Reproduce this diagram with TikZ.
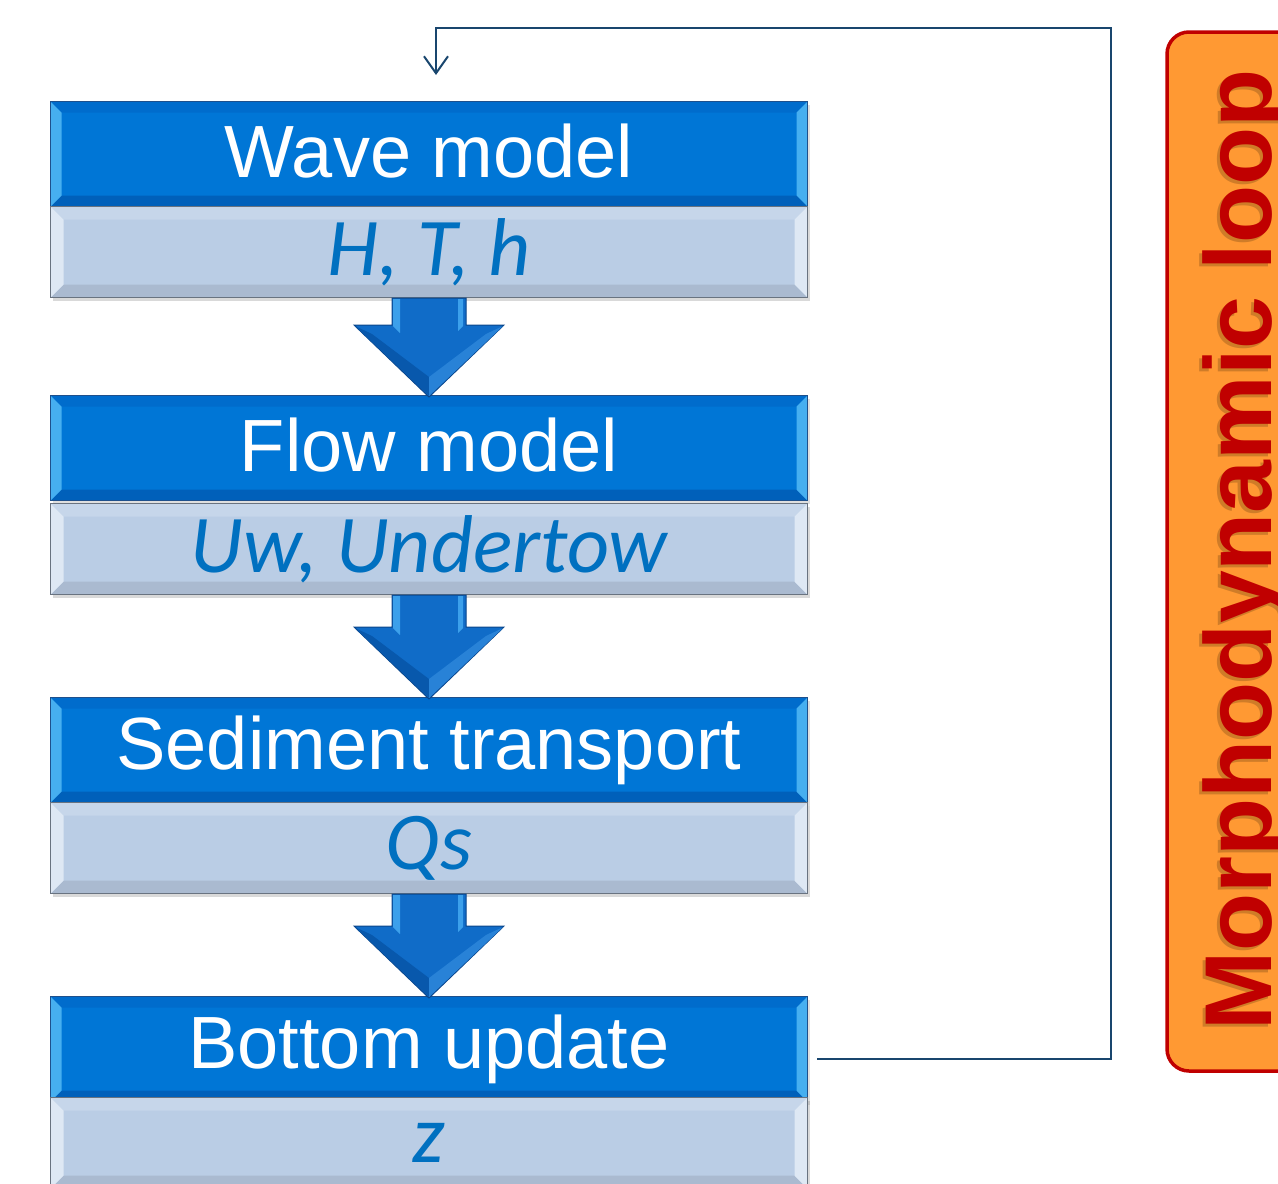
\documentclass[tikz,border=0pt]{standalone}
\usepackage{fontspec}
\setmainfont{Liberation Sans}
\newfontfamily\subfont{Carlito}
\usetikzlibrary{arrows.meta,shadows,calc}

\definecolor{hdrblue}{RGB}{0,118,214}
\definecolor{hdrtop}{RGB}{0,108,204}
\definecolor{hdrbot}{RGB}{0,96,186}
\definecolor{hdrlight}{RGB}{70,175,240}
\definecolor{hdredge}{RGB}{30,80,140}
\definecolor{subfill}{RGB}{186,205,229}
\definecolor{subtop}{RGB}{198,214,234}
\definecolor{sublight}{RGB}{222,232,244}
\definecolor{subbot}{RGB}{170,186,208}
\definecolor{subedge}{RGB}{105,115,128}
\definecolor{subtext}{RGB}{0,112,192}
\definecolor{arrblue}{RGB}{16,108,200}
\definecolor{arrdark}{RGB}{8,88,172}
\definecolor{arrlight}{RGB}{60,160,235}
\definecolor{arrface}{RGB}{40,130,215}
\definecolor{arredge}{RGB}{10,70,140}
\definecolor{loopline}{RGB}{25,70,110}
\definecolor{loopfill}{RGB}{255,153,51}
\definecolor{loopred}{RGB}{192,0,0}
\definecolor{loopshade}{RGB}{120,70,20}

\tikzset{
  bevelfaces/.style n args={5}{path picture={
    \coordinate (bnw) at (path picture bounding box.north west);
    \coordinate (bne) at (path picture bounding box.north east);
    \coordinate (bsw) at (path picture bounding box.south west);
    \coordinate (bse) at (path picture bounding box.south east);
    \fill[#2] (bnw) -- (bne) -- ($(bne)+(-#1,#1)$) -- ($(bnw)+(#1,#1)$) -- cycle;
    \fill[#3] (bsw) -- (bse) -- ($(bse)+(-#1,-#1)$) -- ($(bsw)+(#1,-#1)$) -- cycle;
    \fill[#4] (bnw) -- (bsw) -- ($(bsw)+(#1,-#1)$) -- ($(bnw)+(#1,#1)$) -- cycle;
    \fill[#5] (bne) -- (bse) -- ($(bse)+(-#1,-#1)$) -- ($(bne)+(-#1,#1)$) -- cycle;
  }},
  hdrbox/.style={rectangle, anchor=north west, inner sep=0pt,
    minimum width=757pt, minimum height=105pt,
    fill=hdrblue, draw=hdredge, line width=1pt,
    drop shadow={shadow xshift=2pt, shadow yshift=-3pt, opacity=0.25},
    bevelfaces={11}{hdrtop}{hdrbot}{hdrlight}{hdrlight},
    text=white, font=\fontsize{74}{80}\selectfont},
  subbox/.style={rectangle, anchor=north west, inner sep=0pt,
    minimum width=757pt, minimum height=91pt,
    fill=subfill, draw=subedge, line width=1pt,
    drop shadow={shadow xshift=2pt, shadow yshift=-3pt, opacity=0.3},
    bevelfaces={13}{subtop}{subbot}{sublight}{sublight},
    text=subtext, font=\subfont\itshape\fontsize{82}{86}\selectfont},
  flowline/.style={draw=loopline, line width=2pt},
  looptext/.style={text=loopred, font=\bfseries\fontsize{95}{100}\selectfont,
    rotate=90, anchor=base, inner sep=0pt},
}

% block arrow between the value box #1 and the next model box #2
\newcommand\blockarrow[2]{%
  \path let \p1=(#1.south), \p2=(#2.north) in
    [fill=arrblue, draw=arredge, line width=1pt]
    (\x1-37pt,\y1) -- (\x1+37pt,\y1) -- (\x1+37pt,\y2+70pt)
    -- (\x1+75pt,\y2+70pt) -- (\x1,\y2-2pt) -- (\x1-75pt,\y2+70pt)
    -- (\x1-37pt,\y2+70pt) -- cycle;
  \path let \p1=(#1.south), \p2=(#2.north) in
    [fill=arrdark]
    (\x1-74pt,\y2+69pt) -- (\x1,\y2-1pt) -- (\x1,\y2+18pt) -- (\x1-57pt,\y2+61pt) -- cycle;
  \path let \p1=(#1.south), \p2=(#2.north) in
    [fill=arrface]
    (\x1+74pt,\y2+69pt) -- (\x1,\y2-1pt) -- (\x1,\y2+18pt) -- (\x1+57pt,\y2+61pt) -- cycle;
  \path let \p1=(#1.south), \p2=(#2.north) in
    [fill=arrlight]
    (\x1-36pt,\y1-1pt) -- (\x1-29pt,\y1-1pt) -- (\x1-29pt,\y2+62pt) -- (\x1-36pt,\y2+69pt) -- cycle;
  \path let \p1=(#1.south), \p2=(#2.north) in
    [fill=arrlight]
    (\x1+29pt,\y1-1pt) -- (\x1+34pt,\y1-1pt) -- (\x1+34pt,\y2+69pt) -- (\x1+29pt,\y2+64pt) -- cycle;
}

\begin{document}
\begin{tikzpicture}[x=1pt,y=-1pt]
  \useasboundingbox (0,0) rectangle (1278,1184);

  % model stages and their outputs
  \node[hdrbox] (wave) at (50,101) {\raisebox{6pt}{Wave model}};
  \node[subbox] (waveout) at (50,206) {H, T, h};
  \node[hdrbox] (flow) at (50,395) {\raisebox{6pt}{Flow model}};
  \node[subbox] (flowout) at (50,503) {Uw, Undertow};
  \node[hdrbox] (sed) at (50,697) {\raisebox{6pt}{Sediment transport}};
  \node[subbox] (sedout) at (50,802) {Qs};
  \node[hdrbox] (bed) at (50,996) {\raisebox{6pt}{Bottom update}};
  \node[subbox] (bedout) at (50,1097) {z};

  \blockarrow{waveout}{flow}
  \blockarrow{flowout}{sed}
  \blockarrow{sedout}{bed}

  % feedback from the bottom update to the wave model
  \coordinate (loopstart) at (817,1059);
  \coordinate (loopright) at (1111,28);
  \coordinate (loopend) at (436,75);
  \draw[flowline, -{Straight Barb[length=17pt,width=24pt,line width=2pt]}]
    (loopstart) -| (loopright) -| (loopend);

  % loop label panel
  \draw[fill=loopfill, draw=loopred, line width=3.5pt, rounded corners=22pt]
    (1167,32) rectangle (1310,1071);
  \node[looptext, text=loopshade, opacity=0.35] (loopshadow) at (1268,553) {Morphodynamic loop};
  \node[looptext] (looplabel) at (1271,550) {Morphodynamic loop};
\end{tikzpicture}
\end{document}
